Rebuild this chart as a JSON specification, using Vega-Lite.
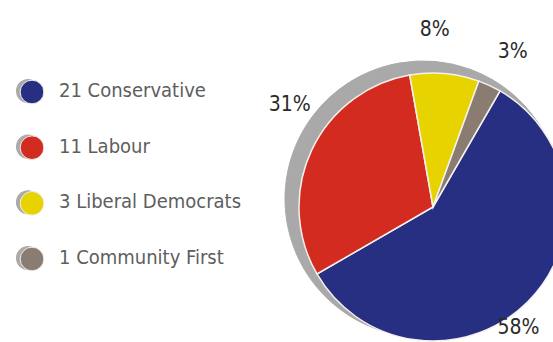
{
  "$schema": "https://vega.github.io/schema/vega-lite/v6.json",
  "width": 553,
  "height": 342,
  "autosize": {"type": "none"},
  "padding": 0,
  "background": "white",
  "config": {"view": {"stroke": null}, "font": "DejaVu Sans Condensed"},
  "data": {
    "values": [
      {"party": "Conservative", "seats": 21, "share": "58%", "label": "21 Conservative", "order": 1},
      {"party": "Labour", "seats": 11, "share": "31%", "label": "11 Labour", "order": 2},
      {"party": "Liberal Democrats", "seats": 3, "share": "8%", "label": "3 Liberal Democrats", "order": 3},
      {"party": "Community First", "seats": 1, "share": "3%", "label": "1 Community First", "order": 4}
    ]
  },
  "layer": [
    {
      "mark": {"type": "arc", "radius": 138, "color": "#a9a9a9", "stroke": "#a9a9a9", "strokeWidth": 1},
      "encoding": {
        "theta": {"field": "seats", "type": "quantitative", "stack": true, "scale": {"range": [0.5236, 6.8068]}},
        "order": {"field": "order"},
        "x": {"datum": 423, "type": "quantitative", "scale": {"domain": [0, 553], "nice": false, "zero": false}, "axis": null},
        "y": {"datum": 199, "type": "quantitative", "scale": {"domain": [0, 342], "nice": false, "reverse": true}, "axis": null}
      }
    },
    {
      "mark": {"type": "arc", "radius": 134, "stroke": "#f6f1ec", "strokeWidth": 1.5},
      "encoding": {
        "theta": {"field": "seats", "type": "quantitative", "stack": true, "scale": {"range": [0.5236, 6.8068]}},
        "order": {"field": "order"},
        "color": {"field": "party", "type": "nominal", "legend": null,
          "scale": {"domain": ["Conservative", "Labour", "Liberal Democrats", "Community First"],
                    "range": ["#262f82", "#d42b20", "#e6d300", "#8b7c72"]}},
        "x": {"datum": 433, "type": "quantitative", "scale": {"domain": [0, 553], "nice": false, "zero": false}, "axis": null},
        "y": {"datum": 207, "type": "quantitative", "scale": {"domain": [0, 342], "nice": false, "reverse": true}, "axis": null}
      }
    },
    {
      "mark": {"type": "text", "radius": 148, "thetaOffset": 0.17, "fontSize": 21, "color": "#2a2a2a", "align": "center", "baseline": "middle"},
      "encoding": {
        "theta": {"field": "seats", "type": "quantitative", "stack": true, "scale": {"range": [0.5236, 6.8068]}},
        "order": {"field": "order"},
        "text": {"condition": {"test": "datum.party === 'Conservative'", "field": "share"}, "value": ""},
        "x": {"datum": 433, "type": "quantitative", "scale": {"domain": [0, 553], "nice": false, "zero": false}, "axis": null},
        "y": {"datum": 207, "type": "quantitative", "scale": {"domain": [0, 342], "nice": false, "reverse": true}, "axis": null}
      }
    },
    {
      "mark": {"type": "text", "radius": 176, "thetaOffset": 0.183, "fontSize": 21, "color": "#2a2a2a", "align": "center", "baseline": "middle"},
      "encoding": {
        "theta": {"field": "seats", "type": "quantitative", "stack": true, "scale": {"range": [0.5236, 6.8068]}},
        "order": {"field": "order"},
        "text": {"condition": {"test": "datum.party === 'Labour'", "field": "share"}, "value": ""},
        "x": {"datum": 433, "type": "quantitative", "scale": {"domain": [0, 553], "nice": false, "zero": false}, "axis": null},
        "y": {"datum": 207, "type": "quantitative", "scale": {"domain": [0, 342], "nice": false, "reverse": true}, "axis": null}
      }
    },
    {
      "mark": {"type": "text", "radius": 177, "thetaOffset": -0.077, "fontSize": 21, "color": "#2a2a2a", "align": "center", "baseline": "middle"},
      "encoding": {
        "theta": {"field": "seats", "type": "quantitative", "stack": true, "scale": {"range": [0.5236, 6.8068]}},
        "order": {"field": "order"},
        "text": {"condition": {"test": "datum.party === 'Liberal Democrats'", "field": "share"}, "value": ""},
        "x": {"datum": 433, "type": "quantitative", "scale": {"domain": [0, 553], "nice": false, "zero": false}, "axis": null},
        "y": {"datum": 207, "type": "quantitative", "scale": {"domain": [0, 342], "nice": false, "reverse": true}, "axis": null}
      }
    },
    {
      "mark": {"type": "text", "radius": 174, "thetaOffset": 0.04, "fontSize": 21, "color": "#2a2a2a", "align": "center", "baseline": "middle"},
      "encoding": {
        "theta": {"field": "seats", "type": "quantitative", "stack": true, "scale": {"range": [0.5236, 6.8068]}},
        "order": {"field": "order"},
        "text": {"condition": {"test": "datum.party === 'Community First'", "field": "share"}, "value": ""},
        "x": {"datum": 433, "type": "quantitative", "scale": {"domain": [0, 553], "nice": false, "zero": false}, "axis": null},
        "y": {"datum": 207, "type": "quantitative", "scale": {"domain": [0, 342], "nice": false, "reverse": true}, "axis": null}
      }
    },
    {
      "mark": {"type": "point", "shape": "circle", "filled": true, "size": 580, "color": "#aaaaaa", "opacity": 1, "yOffset": -1},
      "encoding": {
        "x": {"datum": 28, "type": "quantitative", "scale": {"domain": [0, 553], "nice": false, "zero": false}, "axis": null},
        "y": {"field": "party", "type": "nominal", "sort": ["Conservative", "Labour", "Liberal Democrats", "Community First"], "scale": {"type": "point", "range": [92, 259], "padding": 0}, "axis": null}
      }
    },
    {
      "mark": {"type": "point", "shape": "circle", "filled": true, "size": 560, "opacity": 1, "stroke": "#eeeeee", "strokeWidth": 1},
      "encoding": {
        "x": {"datum": 32, "type": "quantitative", "scale": {"domain": [0, 553], "nice": false, "zero": false}, "axis": null},
        "y": {"field": "party", "type": "nominal", "sort": ["Conservative", "Labour", "Liberal Democrats", "Community First"], "scale": {"type": "point", "range": [92, 259], "padding": 0}, "axis": null},
        "color": {"field": "party", "type": "nominal", "legend": null}
      }
    },
    {
      "mark": {"type": "text", "align": "left", "baseline": "middle", "fontSize": 20, "color": "#5e5e5e", "dy": -1},
      "encoding": {
        "x": {"datum": 59, "type": "quantitative", "scale": {"domain": [0, 553], "nice": false, "zero": false}, "axis": null},
        "y": {"field": "party", "type": "nominal", "sort": ["Conservative", "Labour", "Liberal Democrats", "Community First"], "scale": {"type": "point", "range": [92, 259], "padding": 0}, "axis": null},
        "text": {"field": "label"}
      }
    }
  ],
  "resolve": {"scale": {"y": "independent"}}
}
